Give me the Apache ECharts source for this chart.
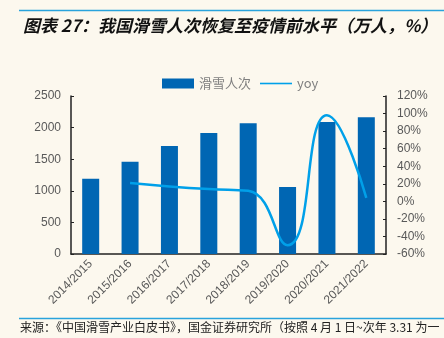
<!DOCTYPE html>
<html><head><meta charset="utf-8">
<script src="https://cdn.jsdelivr.net/npm/echarts@6/dist/echarts.min.js"></script>
<style>html,body{margin:0;padding:0;background:#FCF8EE;}#c{width:444px;height:338px;}</style>
</head><body><div id="c"></div>
<script>
const categories = ['2014/2015','2015/2016','2016/2017','2017/2018','2018/2019','2019/2020','2020/2021','2021/2022'];
const skiVisits = [1190, 1460, 1710, 1915, 2070, 1060, 2090, 2165];
const yoy = [null, 21, 17, 14, 12, -50, 98, 4];
const leftTicks = {min: 0, max: 2500, interval: 500};
const rightTicks = {min: -60, max: 120, interval: 20};
const titleText = '图表 27：我国滑雪人次恢复至疫情前水平（万人，%）';
const sourceText = '来源：《中国滑雪产业白皮书》，国金证券研究所（按照 4 月 1 日~次年 3.31 为一';

const chart = echarts.init(document.getElementById('c'), null, {renderer: 'canvas'});
const grey = '#595959';
const legendText = {color: '#7F7F7F', fontSize: 13, fontFamily: 'Noto Sans CJK SC'};
chart.setOption({
  backgroundColor: '#FCF8EE',
  animation: false,
  title: {
    text: titleText, left: 18, top: 12,
    textStyle: {fontFamily: 'Noto Sans CJK SC', fontSize: 17, fontWeight: 'bold', fontStyle: 'italic', color: '#111'}
  },
  graphic: [
    {type: 'line', shape: {x1: 19, y1: 10.5, x2: 444, y2: 10.5}, style: {stroke: '#29A3DC', lineWidth: 1.5}},
    {type: 'line', shape: {x1: 19, y1: 318.5, x2: 444, y2: 318.5}, style: {stroke: '#29A3DC', lineWidth: 1.5}},
    {type: 'text', left: 20, top: 321, style: {text: sourceText, fontFamily: 'Noto Sans CJK SC', fontSize: 12, fill: '#222'}}
  ],
  legend: [
    {top: 72, left: 157, itemWidth: 32, itemHeight: 10, textStyle: legendText,
     data: [{name: '滑雪人次', icon: 'rect'}]},
    {top: 72, left: 255, itemWidth: 32, itemHeight: 10, textStyle: legendText,
     data: [{name: 'yoy', icon: 'path://M0,0 L0,0 M0,4.2 L32,4.2 L32,5.8 L0,5.8 Z M32,10 L32,10'}]}
  ],
  grid: {left: 71, right: 58, top: 96, bottom: 84},
  xAxis: {
    type: 'category', data: categories,
    axisLine: {lineStyle: {color: '#222', width: 1.5}},
    axisTick: {inside: true, length: 3, lineStyle: {color: '#222'}},
    axisLabel: {rotate: 45, color: grey, fontSize: 12, margin: 8, fontFamily: 'Liberation Sans', interval: 0}
  },
  yAxis: [
    {type: 'value', min: leftTicks.min, max: leftTicks.max, interval: leftTicks.interval,
     splitLine: {show: false},
     axisLine: {show: true, lineStyle: {color: '#222', width: 1.5}},
     axisTick: {show: true, inside: true, length: 3, lineStyle: {color: '#222'}},
     axisLabel: {color: grey, fontSize: 12, margin: 10, fontFamily: 'Liberation Sans', formatter: v => String(v)}},
    {type: 'value', min: rightTicks.min, max: rightTicks.max, interval: rightTicks.interval,
     splitLine: {show: false},
     axisLine: {show: true, lineStyle: {color: '#222', width: 1.5}},
     axisTick: {show: true, inside: true, length: 3, lineStyle: {color: '#222'}},
     axisLabel: {color: grey, fontSize: 12, margin: 11, fontFamily: 'Liberation Sans', formatter: v => v + '%'}}
  ],
  series: [
    {name: '滑雪人次', type: 'bar', data: skiVisits, barWidth: 17, itemStyle: {color: '#0066B3'}},
    {name: 'yoy', type: 'line', yAxisIndex: 1, data: yoy, smooth: 0.5, symbol: 'none',
     lineStyle: {color: '#00A0E9', width: 2.5}, itemStyle: {color: '#00A0E9'}}
  ]
});
</script></body></html>
